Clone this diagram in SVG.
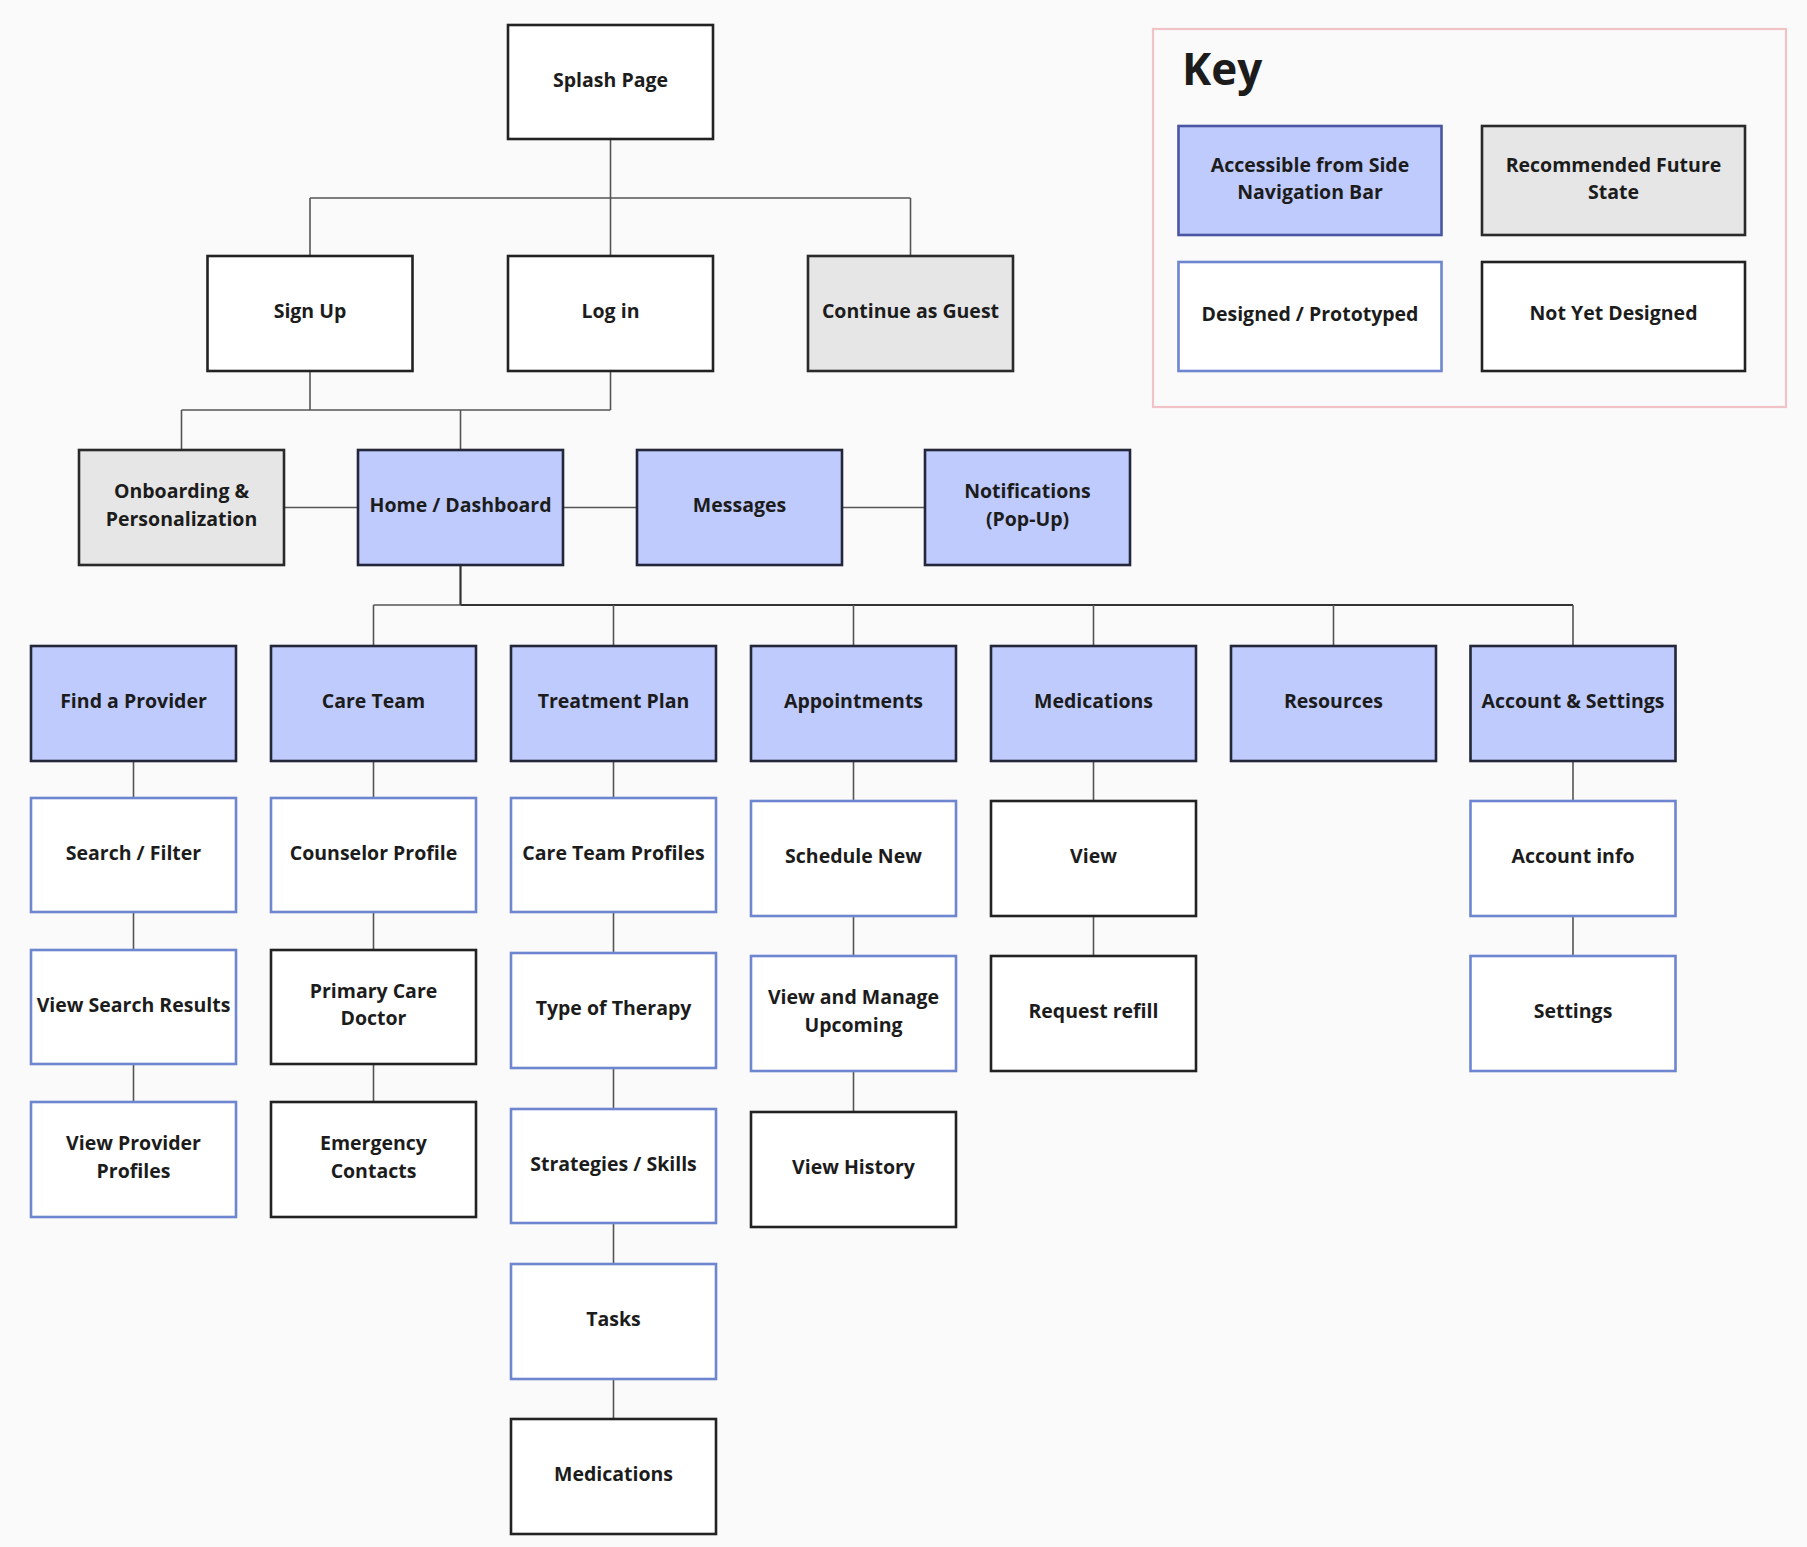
<svg xmlns="http://www.w3.org/2000/svg" width="1807" height="1547" viewBox="0 0 1807 1547">
<style>
text{font-family:"Open Sans","Noto Sans","Liberation Sans",sans-serif;font-weight:700;font-size:19.5px;fill:#1c1c1c;text-anchor:middle;dominant-baseline:central}
.w rect{fill:#ffffff;stroke:#222222;stroke-width:2.6}
.b rect{fill:#ffffff;stroke:#6e86cf;stroke-width:2.6}
.n rect{fill:#bfcbfc;stroke:#24263a;stroke-width:2.6}
.g rect{fill:#e6e6e6;stroke:#2a2a2a;stroke-width:2.6}
.c line{stroke:#555555;stroke-width:1.6}
.c .d{stroke:#333333;stroke-width:2.2}
</style>
<rect x="0" y="0" width="1807" height="1547" fill="#fafafa"/>
<g class="c" id="connectors">
<line x1="610.5" y1="139" x2="610.5" y2="256"/>
<line x1="310" y1="198" x2="910.5" y2="198"/>
<line x1="310" y1="198" x2="310" y2="256"/>
<line x1="910.5" y1="198" x2="910.5" y2="256"/>
<line x1="310" y1="371" x2="310" y2="410"/>
<line x1="610.5" y1="371" x2="610.5" y2="410"/>
<line x1="181.5" y1="410" x2="610.5" y2="410"/>
<line x1="181.5" y1="410" x2="181.5" y2="450"/>
<line x1="460.5" y1="410" x2="460.5" y2="450"/>
<line x1="284" y1="507.5" x2="358" y2="507.5"/>
<line x1="563" y1="507.5" x2="637" y2="507.5"/>
<line x1="842" y1="507.5" x2="925" y2="507.5"/>
<line class="d" x1="460.5" y1="565" x2="460.5" y2="605"/>
<line x1="373.5" y1="605" x2="460.5" y2="605"/>
<line class="d" x1="460.5" y1="605" x2="1573" y2="605"/>
<line x1="373.5" y1="605" x2="373.5" y2="646"/>
<line x1="613.5" y1="605" x2="613.5" y2="646"/>
<line x1="853.5" y1="605" x2="853.5" y2="646"/>
<line x1="1093.5" y1="605" x2="1093.5" y2="646"/>
<line x1="1333.5" y1="605" x2="1333.5" y2="646"/>
<line x1="1573" y1="605" x2="1573" y2="646"/>
<line x1="133.5" y1="761" x2="133.5" y2="798"/>
<line x1="133.5" y1="912" x2="133.5" y2="950"/>
<line x1="133.5" y1="1064" x2="133.5" y2="1102"/>
<line x1="373.5" y1="761" x2="373.5" y2="798"/>
<line x1="373.5" y1="912" x2="373.5" y2="950"/>
<line x1="373.5" y1="1064" x2="373.5" y2="1102"/>
<line x1="613.5" y1="761" x2="613.5" y2="798"/>
<line x1="613.5" y1="912" x2="613.5" y2="953"/>
<line x1="613.5" y1="1068" x2="613.5" y2="1109"/>
<line x1="613.5" y1="1223" x2="613.5" y2="1264"/>
<line x1="613.5" y1="1379" x2="613.5" y2="1419"/>
<line x1="853.5" y1="761" x2="853.5" y2="801"/>
<line x1="853.5" y1="916" x2="853.5" y2="956"/>
<line x1="853.5" y1="1071" x2="853.5" y2="1112"/>
<line x1="1093.5" y1="761" x2="1093.5" y2="801"/>
<line x1="1093.5" y1="916" x2="1093.5" y2="956"/>
<line x1="1573" y1="761" x2="1573" y2="801"/>
<line x1="1573" y1="916" x2="1573" y2="956"/>
</g>
<g id="splash" class="w"><rect x="508" y="25" width="205" height="114"/><text x="610.5" y="79">Splash Page</text></g>
<g id="signup" class="w"><rect x="207.5" y="256" width="205" height="115"/><text x="310" y="310.5">Sign Up</text></g>
<g id="login" class="w"><rect x="508" y="256" width="205" height="115"/><text x="610.5" y="310.5">Log in</text></g>
<g id="guest" class="g"><rect x="808" y="256" width="205" height="115"/><text x="910.5" y="310.5">Continue as Guest</text></g>
<g id="onboarding" class="g"><rect x="79" y="450" width="205" height="115"/><text x="181.5" y="490.5">Onboarding &amp;</text><text x="181.5" y="518">Personalization</text></g>
<g id="home" class="n"><rect x="358" y="450" width="205" height="115"/><text x="460.5" y="504.5">Home / Dashboard</text></g>
<g id="messages" class="n"><rect x="637" y="450" width="205" height="115"/><text x="739.5" y="504.5">Messages</text></g>
<g id="notifications" class="n"><rect x="925" y="450" width="205" height="115"/><text x="1027.5" y="490.5">Notifications</text><text x="1027.5" y="518">(Pop-Up)</text></g>
<g id="find" class="n"><rect x="31" y="646" width="205" height="115"/><text x="133.5" y="700.5">Find a Provider</text></g>
<g id="careteam" class="n"><rect x="271" y="646" width="205" height="115"/><text x="373.5" y="700.5">Care Team</text></g>
<g id="treatment" class="n"><rect x="511" y="646" width="205" height="115"/><text x="613.5" y="700.5">Treatment Plan</text></g>
<g id="appointments" class="n"><rect x="751" y="646" width="205" height="115"/><text x="853.5" y="700.5">Appointments</text></g>
<g id="medications" class="n"><rect x="991" y="646" width="205" height="115"/><text x="1093.5" y="700.5">Medications</text></g>
<g id="resources" class="n"><rect x="1231" y="646" width="205" height="115"/><text x="1333.5" y="700.5">Resources</text></g>
<g id="account" class="n"><rect x="1470.5" y="646" width="205" height="115"/><text x="1573" y="700.5">Account &amp; Settings</text></g>
<g id="search" class="b"><rect x="31" y="798" width="205" height="114"/><text x="133.5" y="852">Search / Filter</text></g>
<g id="results" class="b"><rect x="31" y="950" width="205" height="114"/><text x="133.5" y="1004">View Search Results</text></g>
<g id="providerprofiles" class="b"><rect x="31" y="1102" width="205" height="115"/><text x="133.5" y="1142.5">View Provider</text><text x="133.5" y="1170">Profiles</text></g>
<g id="counselor" class="b"><rect x="271" y="798" width="205" height="114"/><text x="373.5" y="852">Counselor Profile</text></g>
<g id="pcp" class="w"><rect x="271" y="950" width="205" height="114"/><text x="373.5" y="990">Primary Care</text><text x="373.5" y="1017.5">Doctor</text></g>
<g id="emergency" class="w"><rect x="271" y="1102" width="205" height="115"/><text x="373.5" y="1142.5">Emergency</text><text x="373.5" y="1170">Contacts</text></g>
<g id="careprofiles" class="b"><rect x="511" y="798" width="205" height="114"/><text x="613.5" y="852">Care Team Profiles</text></g>
<g id="therapy" class="b"><rect x="511" y="953" width="205" height="115"/><text x="613.5" y="1007.5">Type of Therapy</text></g>
<g id="strategies" class="b"><rect x="511" y="1109" width="205" height="114"/><text x="613.5" y="1163">Strategies / Skills</text></g>
<g id="tasks" class="b"><rect x="511" y="1264" width="205" height="115"/><text x="613.5" y="1318.5">Tasks</text></g>
<g id="tpmeds" class="w"><rect x="511" y="1419" width="205" height="115"/><text x="613.5" y="1473.5">Medications</text></g>
<g id="schedule" class="b"><rect x="751" y="801" width="205" height="115"/><text x="853.5" y="855.5">Schedule New</text></g>
<g id="upcoming" class="b"><rect x="751" y="956" width="205" height="115"/><text x="853.5" y="996.5">View and Manage</text><text x="853.5" y="1024">Upcoming</text></g>
<g id="history" class="w"><rect x="751" y="1112" width="205" height="115"/><text x="853.5" y="1166.5">View History</text></g>
<g id="medview" class="w"><rect x="991" y="801" width="205" height="115"/><text x="1093.5" y="855.5">View</text></g>
<g id="refill" class="w"><rect x="991" y="956" width="205" height="115"/><text x="1093.5" y="1010.5">Request refill</text></g>
<g id="accountinfo" class="b"><rect x="1470.5" y="801" width="205" height="115"/><text x="1573" y="855.5">Account info</text></g>
<g id="settings" class="b"><rect x="1470.5" y="956" width="205" height="115"/><text x="1573" y="1010.5">Settings</text></g>
<g id="key">
<rect x="1153" y="29" width="633" height="378" fill="#fafafa" stroke="#f1c3c6" stroke-width="2.2"/>
<text x="1182" y="85" style="font-size:44px;font-weight:700;text-anchor:start;dominant-baseline:alphabetic">Key</text>
<g class="n"><rect x="1178.5" y="126" width="263" height="109" style="stroke:#4a56a3"/><text x="1310" y="164">Accessible from Side</text><text x="1310" y="191">Navigation Bar</text></g>
<g class="g"><rect x="1482" y="126" width="263" height="109"/><text x="1613.5" y="164">Recommended Future</text><text x="1613.5" y="191">State</text></g>
<g class="b"><rect x="1178.5" y="262" width="263" height="109"/><text x="1310" y="313">Designed / Prototyped</text></g>
<g class="w"><rect x="1482" y="262" width="263" height="109"/><text x="1613.5" y="312.5">Not Yet Designed</text></g>
</g>
</svg>
